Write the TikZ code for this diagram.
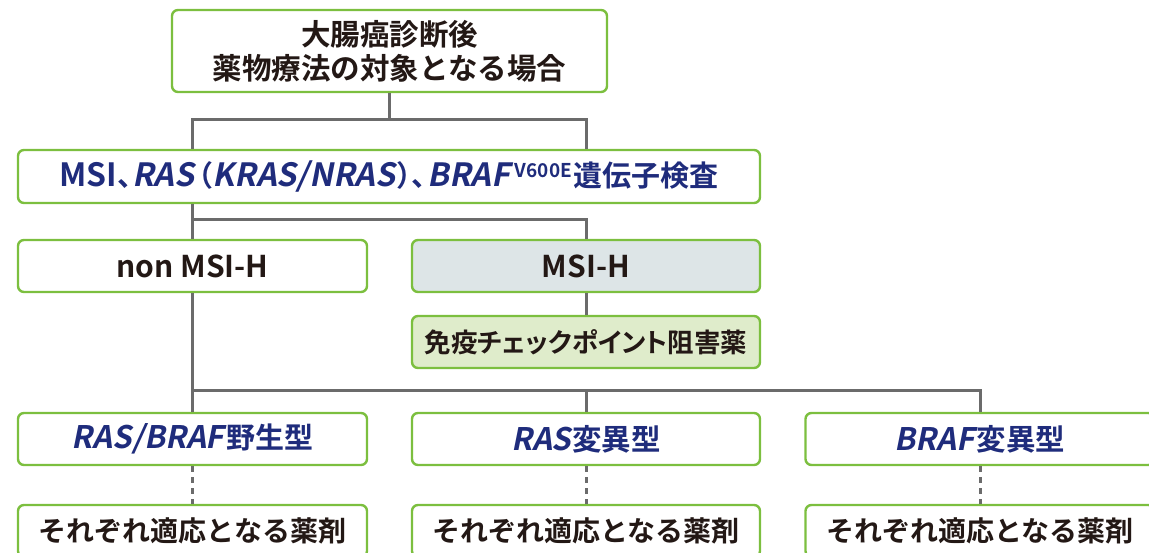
\documentclass[tikz,border=0pt]{standalone}
\usepackage{fontspec}
\newfontfamily\jp{Noto Sans CJK JP}[BoldFont={* Bold}]
\newfontfamily\jpp{Noto Sans CJK JP}[BoldFont={* Bold},RawFeature=+palt]
\newfontfamily\latup{Noto Sans CJK JP}[BoldFont={* Bold}]
\newfontfamily\latit{Noto Sans CJK JP}[BoldFont={* Bold},FakeSlant=0.2]
\definecolor{boxgreen}{HTML}{7CBF3F}
\definecolor{linegray}{HTML}{6B6B6B}
\definecolor{navy}{HTML}{1F2C7C}
\definecolor{ink}{HTML}{231815}
\definecolor{msifill}{HTML}{DDE5E7}
\definecolor{icifill}{HTML}{DFECCB}
\newcommand\ilat[2][31]{{\latit\bfseries\fontsize{#1}{#1}\selectfont #2}}
\newcommand\ulat[2][30]{{\latup\bfseries\fontsize{#1}{#1}\selectfont #2}}
\newcommand\ppun[1]{{\jpp\bfseries #1}}
\tikzset{
  box/.style={draw=boxgreen, line width=2.4pt, rounded corners=6pt, fill=white,
    minimum height=52pt, inner sep=0pt, align=center, text=ink,
    font=\jp\bfseries\fontsize{28}{34}\selectfont},
  conn/.style={draw=linegray, line width=3pt},
  dashconn/.style={draw=linegray, line width=3pt, dash pattern=on 6pt off 5pt},
}
\begin{document}
\begin{tikzpicture}[x=1pt,y=-1pt]
\useasboundingbox (0,0) rectangle (1149,553);
\begin{scope}
\clip (0,0) rectangle (1149,553);
% nodes
\node[box, minimum width=435pt, minimum height=82pt, font=\jp\bfseries\fontsize{29.5}{34}\selectfont] (top) at (389.5,51)
  {大腸癌診断後\\薬物療法の対象となる場合};
\node[box, minimum width=742pt, minimum height=53pt, text=navy, font=\jp\bfseries\fontsize{29}{34}\selectfont] (test) at (389,176.5)
  {\ulat[32]{MSI}\hspace{1pt}\ppun{、}\ilat[32]{RAS}\hspace{3pt}\ppun{（}\hspace{1pt}\ilat[32]{KRAS/NRAS}\hspace{2pt}\ppun{）、}\hspace{1pt}\ilat[32]{BRAF}\hspace{5pt}\raisebox{9pt}{\ulat[19]{V600E}}\hspace{2pt}遺伝子検査};
\node[box, minimum width=349pt] (non) at (192.5,266) {\ulat{non MSI-H}};
\node[box, minimum width=348pt, fill=msifill] (msih) at (586,266) {\ulat{MSI-H}};
\node[box, minimum width=348pt, fill=icifill, font=\jpp\bfseries\fontsize{26.5}{31}\selectfont] (ici) at (586,342) {免疫チェックポイント阻害薬};
\node[box, minimum width=349pt, text=navy, font=\jp\bfseries\fontsize{29}{33}\selectfont] (wt) at (192.5,439) {\ilat{RAS/BRAF}\hspace{2pt}野生型};
\node[box, minimum width=348pt, text=navy, font=\jp\bfseries\fontsize{29.5}{33}\selectfont] (ras) at (586,439) {\ilat{RAS}\hspace{1pt}変異型};
\node[box, minimum width=349pt, text=navy, font=\jp\bfseries\fontsize{29.5}{33}\selectfont] (braf) at (980,439) {\ilat{BRAF}\hspace{2pt}変異型};
\node[box, minimum width=349pt] (d1) at (192.5,531) {それぞれ適応となる薬剤};
\node[box, minimum width=348pt] (d2) at (586,531) {それぞれ適応となる薬剤};
\node[box, minimum width=349pt] (d3) at (980,531) {それぞれ適応となる薬剤};
% connectors
\coordinate (j1) at (389.5,120);
\coordinate (j2) at (192.5,220);
\coordinate (j3) at (192.5,390);
\draw[conn] (top.south) -- (j1);
\draw[conn] (test.north -| non.north) |- (j1) -| (test.north -| msih.north);
\draw[conn] (test.south -| non.north) -- (non.north);
\draw[conn] (j2) -| (msih.north);
\draw[conn] (msih.south) -- (ici.north);
\draw[conn] (non.south) -- (wt.north);
\draw[conn] (j3) -| (braf.north);
\draw[conn] (j3 -| ras.north) -- (ras.north);
\draw[dashconn] (wt.south) -- (d1.north);
\draw[dashconn] (ras.south) -- (d2.north);
\draw[dashconn] (braf.south) -- (d3.north);
\end{scope}
\end{tikzpicture}
\end{document}
